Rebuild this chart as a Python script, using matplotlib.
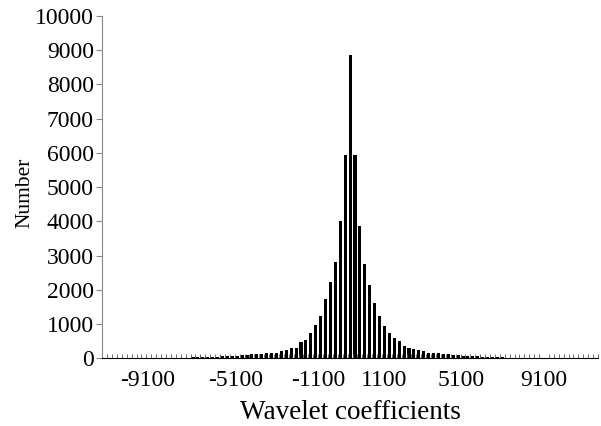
import numpy as np
import matplotlib
matplotlib.use("Agg")
import matplotlib.pyplot as plt

# Histogram of wavelet coefficients (counts per bin, left tail -> right tail)
counts_left = [3, 3, 4, 4, 5, 5, 6, 6, 7, 8,
               9, 10, 12, 14, 16, 18, 22, 26, 30, 34,
               40, 45, 50, 56, 62, 70, 78, 82, 100, 102,
               120, 122, 125, 150, 152, 170, 222, 235, 298, 320,
               473, 540, 740, 987, 1241, 1740, 2242, 2826, 4015, 5950]
count_peak = [8860]
counts_right = [5950, 3870, 2750, 2146, 1630, 1241, 958, 753, 590, 511,
                365, 315, 268, 248, 219, 170, 153, 153, 131, 123,
                102, 102, 82, 75, 68, 60, 54, 46, 40, 35,
                30, 26, 22, 18, 15, 13, 11, 10, 9, 8,
                7, 6, 6, 5, 5, 4, 4, 3, 3, 2]
counts = counts_left + count_peak + counts_right

xtick_labels = ['-9100', '-5100', '-1100', '1100', '5100', '9100']
# where each label sits, in bins away from the central bin
xtick_bins = [-41.2, -23.4, -6.4, 6.9, 22.6, 39.5]
ytick_values = [0, 1000, 2000, 3000, 4000, 5000, 6000, 7000, 8000, 9000, 10000]

idx = np.arange(len(counts)) - len(counts) // 2
edges = np.append(idx - 0.5, idx[-1] + 0.5)

plt.rcParams['font.family'] = ['Liberation Serif', 'DejaVu Serif']

fig = plt.figure(figsize=(6.01, 4.26), dpi=100)
ax = fig.add_axes([0.170, 0.1585, 0.825, 0.804])

ax.bar(idx, counts, width=0.62, color='black', edgecolor='none')

ax.set_xlim(edges[0], edges[-1])
ax.set_ylim(0, 10000)

ax.spines['top'].set_visible(False)
ax.spines['right'].set_visible(False)
ax.spines['left'].set_color('#888888')
ax.spines['bottom'].set_color('black')

ax.set_yticks(ytick_values)
ax.set_yticklabels([str(v) for v in ytick_values])
ax.tick_params(axis='y', direction='out', length=4, width=0.8, color='#888888',
               labelsize=17, pad=2)

ax.set_xticks(xtick_bins)
ax.set_xticklabels(xtick_labels)
ax.tick_params(axis='x', which='major', length=0, labelsize=17, pad=8)
ax.set_xticks(edges, minor=True)
ax.tick_params(axis='x', which='minor', direction='in', length=3, width=0.6, color='#555555')

ax.set_ylabel('Number', fontsize=15.5)
ax.yaxis.set_label_coords(-0.137, 0.483)
ax.set_xlabel('Wavelet coefficients', fontsize=19.5, labelpad=7)

fig.savefig('out.png', dpi=100)
